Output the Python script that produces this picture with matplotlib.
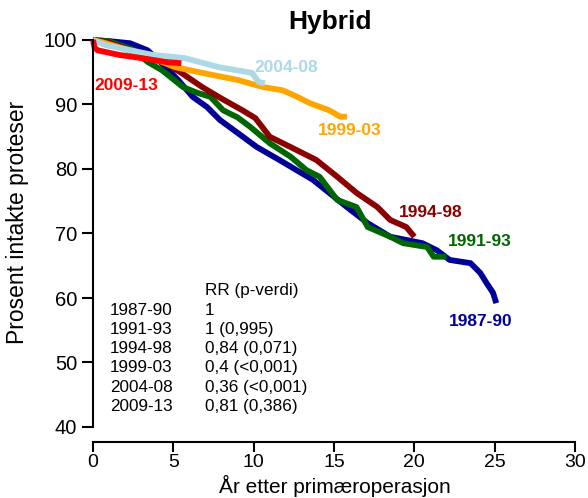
import matplotlib.pyplot as plt

plt.rcParams['font.family'] = ['Liberation Sans', 'DejaVu Sans']

# Kaplan-Meier kurver (år, prosent intakte)
t_8790 = [0, 1.1, 2.3, 3.4, 4.2, 5.3, 6.2, 7.1, 7.9, 9.0, 10.2, 11.6, 13.7, 15.8, 17.1, 18.5, 20.5, 21.4, 22.2, 23.5, 24.1, 24.5, 24.9, 25.1]
v_8790 = [100, 99.8, 99.5, 98.4, 96.6, 93.8, 91.2, 89.6, 87.6, 85.6, 83.4, 81.4, 78.3, 74.1, 71.6, 69.5, 68.5, 67.4, 65.9, 65.4, 63.9, 62.3, 60.8, 59.2]

t_9193 = [0, 1.0, 2.5, 3.4, 4.3, 4.8, 5.6, 6.5, 7.3, 8.1, 9.0, 9.8, 11.0, 12.3, 13.3, 14.1, 15.2, 16.4, 17.1, 18.5, 19.3, 20.8, 21.2, 22.0]
v_9193 = [100, 99.8, 98.5, 96.6, 95.3, 94.3, 92.7, 91.8, 91.2, 89.1, 88.0, 86.5, 84.0, 81.9, 79.8, 78.8, 75.2, 74.1, 71.0, 69.5, 68.5, 67.9, 66.4, 66.4]

t_9498 = [0, 1.0, 2.6, 4.5, 5.5, 6.8, 7.8, 9.3, 10.1, 11.0, 12.3, 13.9, 15.2, 16.4, 17.7, 18.5, 19.5, 20.0]
v_9498 = [100, 99.6, 98.1, 96.4, 94.9, 92.7, 91.2, 89.1, 87.9, 85.0, 83.4, 81.4, 78.8, 76.3, 74.1, 72.1, 71.0, 69.5]

t_9903 = [0, 0.8, 3.2, 5.1, 6.8, 9.0, 10.6, 11.8, 12.7, 13.5, 14.7, 15.4, 15.8]
v_9903 = [100, 99.5, 97.7, 95.8, 94.9, 93.8, 92.7, 92.2, 91.2, 90.2, 89.1, 88.1, 88.1]

t_0408 = [0, 0.8, 3.7, 5.7, 7.8, 9.9, 10.3, 10.7]
v_0408 = [100, 99.2, 97.7, 97.2, 95.8, 94.9, 93.5, 93.3]

t_0913 = [0, 0.1, 0.3, 1.6, 3.0, 4.5, 5.5]
v_0913 = [100, 98.8, 98.4, 97.7, 97.2, 96.6, 96.4]

perioder = ["1987-90", "1991-93", "1994-98", "1999-03", "2004-08", "2009-13"]
rr_tekst = ["1", "1 (0,995)", "0,84 (0,071)", "0,4 (<0,001)", "0,36 (<0,001)", "0,81 (0,386)"]

kurver = [
    (t_8790, v_8790, "#000099"),
    (t_9193, v_9193, "#006600"),
    (t_9498, v_9498, "#8B0000"),
    (t_9903, v_9903, "#FFA500"),
    (t_0408, v_0408, "#ADD8E6"),
    (t_0913, v_0913, "#FF0000"),
]

# posisjon for etiketter ved kurvene
etiketter = [
    ("1987-90", 24.1, 56.3, "#000099"),
    ("1991-93", 24.1, 68.8, "#006600"),
    ("1994-98", 21.0, 73.2, "#8B0000"),
    ("1999-03", 16.0, 86.0, "#FFA500"),
    ("2004-08", 12.0, 95.8, "#ADD8E6"),
    ("2009-13", 2.1, 93.0, "#FF0000"),
]

fig = plt.figure(figsize=(5.88, 4.98), dpi=100)
ax = fig.add_axes([93 / 588, 1 - 427 / 498, (575 - 93) / 588, (427 - 40) / 498])

for t, v, farge in kurver:
    ax.plot(t, v, color=farge, lw=4.2, clip_on=False, solid_capstyle="butt")

for navn, x, y, farge in etiketter:
    ax.text(x, y, navn, color=farge, fontsize=12.5, fontweight="bold", ha="center", va="center")

# tabell med RR
ax.text(6.97, 61.2, "RR (p-verdi)", fontsize=12.3, va="center")
for i, (p, rr) in enumerate(zip(perioder, rr_tekst)):
    y = 58.0 - i * 2.95
    ax.text(1.06, y, p, fontsize=12.3, va="center")
    ax.text(6.97, y, rr, fontsize=12.3, va="center")

ax.set_xlim(0, 30)
ax.set_ylim(40, 100)
ax.set_xticks(range(0, 31, 5))
ax.set_yticks(range(40, 101, 10))
ax.spines["top"].set_visible(False)
ax.spines["right"].set_visible(False)
ax.spines["bottom"].set_position(("outward", 11))
for s in ["left", "bottom"]:
    ax.spines[s].set_linewidth(1.5)
ax.tick_params(axis="both", length=8, width=1.5, labelsize=14.5)
ax.tick_params(axis="x", length=7, pad=1.5, labelsize=14)

fig.text(330 / 588, 1 - 22 / 498, "Hybrid", fontsize=19, fontweight="bold", ha="center", va="center")
fig.text(18 / 588, 1 - 222 / 498, "Prosent intakte proteser", fontsize=16.5, rotation=90, ha="center", va="center")
fig.text(335 / 588, 1 / 498, "År etter primæroperasjon", fontsize=15, ha="center", va="bottom")

plt.savefig("out.png", dpi=100)
